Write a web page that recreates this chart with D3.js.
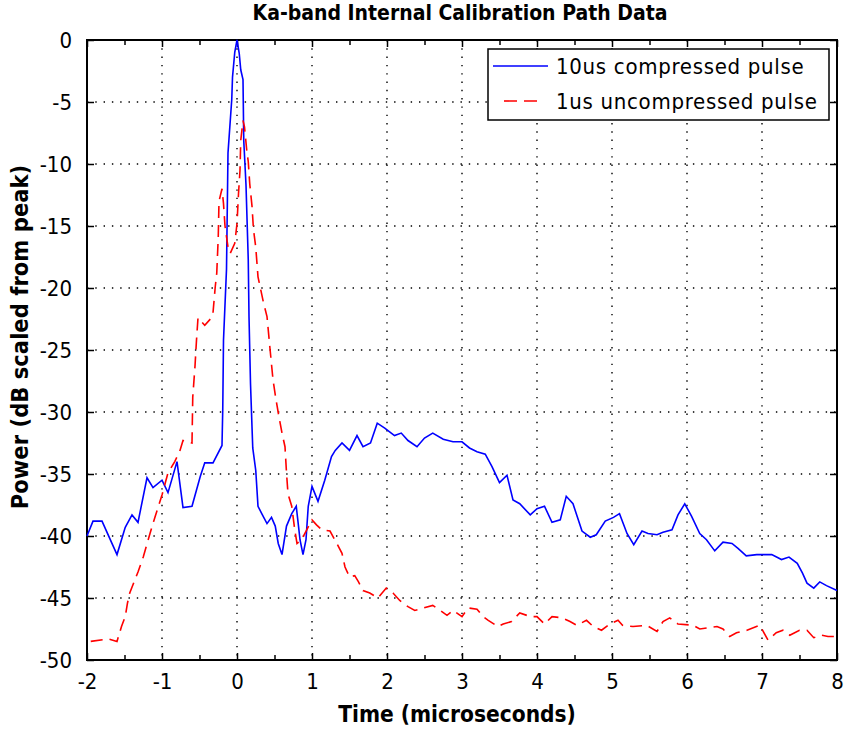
<!DOCTYPE html>
<html>
<head>
<meta charset="utf-8">
<script src="https://cdn.jsdelivr.net/npm/d3@7"></script>
<style>
  body { margin: 0; background: #fff; }
  text { font-family: "Liberation Sans Narrow", "DejaVu Sans Condensed", "Liberation Sans", Arial, sans-serif; }
</style>
</head>
<body>
<div id="chart"></div>
<script>
(function(){
  // 10us compressed pulse (blue, solid)
  const blueTime = [-2.0, -1.92, -1.80, -1.60, -1.49, -1.40, -1.32, -1.20, -1.12, -1.00, -0.92, -0.80, -0.72, -0.60, -0.49, -0.43, -0.32, -0.20, -0.19, -0.18, -0.14, -0.12, -0.07, -0.06, -0.03, 0.0, 0.03, 0.05, 0.08, 0.09, 0.12, 0.15, 0.16, 0.18, 0.20, 0.21, 0.25, 0.28, 0.33, 0.40, 0.46, 0.51, 0.55, 0.60, 0.66, 0.73, 0.79, 0.82, 0.84, 0.88, 0.92, 0.95, 1.00, 1.08, 1.17, 1.26, 1.31, 1.40, 1.50, 1.60, 1.68, 1.78, 1.87, 1.97, 2.10, 2.19, 2.28, 2.40, 2.50, 2.61, 2.75, 2.88, 3.00, 3.10, 3.20, 3.31, 3.40, 3.50, 3.60, 3.68, 3.77, 3.91, 4.00, 4.10, 4.20, 4.31, 4.39, 4.48, 4.60, 4.71, 4.79, 4.91, 5.02, 5.10, 5.20, 5.29, 5.40, 5.48, 5.60, 5.68, 5.80, 5.88, 5.97, 6.06, 6.17, 6.26, 6.37, 6.48, 6.60, 6.68, 6.79, 6.93, 7.13, 7.26, 7.36, 7.47, 7.54, 7.60, 7.69, 7.77, 7.86, 8.00];
  const bluePower = [-40.0, -38.8, -38.8, -41.5, -39.3, -38.3, -38.9, -35.3, -36.1, -35.5, -36.5, -34.0, -37.7, -37.6, -35.2, -34.1, -34.1, -32.7, -29.8, -24.2, -18.5, -9.1, -4.8, -3.0, -1.0, 0.0, -1.1, -2.4, -3.2, -8.1, -11.7, -17.7, -22.3, -27.7, -31.2, -32.9, -34.7, -37.6, -38.2, -39.0, -38.5, -39.2, -40.6, -41.5, -39.2, -38.2, -37.6, -39.2, -40.3, -41.5, -40.3, -37.6, -36.0, -37.2, -35.5, -33.6, -33.1, -32.5, -33.1, -31.9, -32.8, -32.5, -30.9, -31.3, -31.9, -31.7, -32.3, -32.8, -32.1, -31.7, -32.2, -32.4, -32.4, -32.9, -33.2, -33.4, -34.4, -35.7, -35.1, -37.1, -37.4, -38.3, -37.8, -37.6, -38.9, -38.7, -36.8, -37.4, -39.6, -40.1, -39.9, -38.8, -38.5, -38.2, -39.8, -40.7, -39.6, -39.8, -39.9, -39.7, -39.5, -38.3, -37.4, -38.4, -39.8, -40.3, -41.2, -40.5, -40.6, -41.0, -41.6, -41.5, -41.5, -41.9, -41.7, -42.2, -43.0, -43.8, -44.2, -43.7, -44.0, -44.4];

  // 1us uncompressed pulse (red, dashed)
  const redTime = [-1.95, -1.72, -1.60, -1.54, -1.49, -1.46, -1.43, -1.36, -1.32, -1.25, -1.16, -1.09, -1.00, -0.92, -0.83, -0.76, -0.72, -0.60, -0.59, -0.56, -0.54, -0.52, -0.43, -0.34, -0.32, -0.29, -0.27, -0.25, -0.24, -0.20, -0.18, -0.16, -0.12, -0.09, -0.03, 0.0, 0.02, 0.04, 0.05, 0.08, 0.10, 0.13, 0.15, 0.17, 0.20, 0.22, 0.25, 0.28, 0.35, 0.40, 0.44, 0.48, 0.52, 0.56, 0.60, 0.64, 0.66, 0.68, 0.73, 0.77, 0.80, 0.86, 0.93, 1.00, 1.06, 1.13, 1.24, 1.33, 1.40, 1.44, 1.50, 1.57, 1.62, 1.68, 1.77, 1.88, 1.99, 2.08, 2.17, 2.28, 2.37, 2.49, 2.61, 2.71, 2.80, 2.88, 3.00, 3.08, 3.20, 3.28, 3.35, 3.48, 3.55, 3.66, 3.77, 3.91, 4.00, 4.10, 4.20, 4.33, 4.44, 4.53, 4.66, 4.75, 4.86, 4.97, 5.08, 5.14, 5.28, 5.46, 5.60, 5.68, 5.77, 5.88, 6.08, 6.17, 6.40, 6.48, 6.57, 6.66, 6.80, 6.97, 7.08, 7.19, 7.28, 7.37, 7.50, 7.60, 7.69, 7.79, 7.88, 8.00];
  const redPower = [-48.5, -48.3, -48.5, -47.3, -46.5, -45.4, -44.6, -43.5, -42.9, -41.7, -39.8, -38.4, -36.7, -34.9, -34.0, -33.1, -32.3, -32.5, -28.8, -26.3, -24.2, -22.4, -23.0, -22.4, -22.0, -19.9, -18.8, -15.9, -13.0, -12.0, -13.2, -15.0, -16.7, -17.2, -16.4, -14.8, -12.4, -10.5, -8.1, -6.5, -7.0, -8.9, -9.8, -11.6, -13.4, -15.3, -16.7, -19.1, -21.1, -22.3, -24.9, -27.4, -29.0, -30.4, -31.7, -32.8, -34.9, -36.6, -37.6, -39.5, -40.6, -40.3, -39.5, -38.7, -39.1, -39.5, -39.6, -40.6, -41.4, -42.5, -43.3, -43.2, -43.7, -44.4, -44.6, -45.0, -44.2, -44.6, -45.2, -45.7, -46.0, -45.8, -45.6, -46.0, -46.4, -46.0, -46.5, -45.8, -45.9, -46.5, -46.8, -47.3, -47.1, -46.9, -46.2, -46.5, -46.5, -47.1, -46.5, -46.6, -46.9, -47.2, -46.8, -47.3, -47.6, -47.1, -46.8, -47.2, -47.3, -47.2, -47.7, -46.9, -46.6, -47.1, -47.2, -47.5, -47.3, -47.5, -48.1, -47.8, -47.6, -47.2, -48.4, -47.8, -47.6, -48.0, -47.6, -47.6, -48.2, -48.0, -48.1, -48.1];

  const xTicks = [-2, -1, 0, 1, 2, 3, 4, 5, 6, 7, 8];
  const xMinorTicks = [-1.5, -0.5, 0.5, 1.5, 2.5, 3.5, 4.5, 5.5, 6.5, 7.5];
  const yTicks = [0, -5, -10, -15, -20, -25, -30, -35, -40, -45, -50];
  const seriesNames = ["10us compressed pulse", "1us uncompressed pulse"];

  const margin = { top: 40, right: 8, bottom: 69, left: 87 };
  const width = 845 - margin.left - margin.right;
  const height = 729 - margin.top - margin.bottom;

  const svg = d3.select("#chart")
    .append("svg")
    .attr("width", 845)
    .attr("height", 729);

  const g = svg.append("g")
    .attr("transform", `translate(${margin.left},${margin.top})`);

  const x = d3.scaleLinear().domain([-2, 8]).range([0, width]);
  const y = d3.scaleLinear().domain([-50, 0]).range([height, 0]);

  // dotted grid
  const grid = g.append("g").attr("stroke", "#000").attr("stroke-width", 1.4)
    .attr("stroke-dasharray", "1.4,6.9");
  grid.selectAll(".vg").data(xTicks.slice(1, -1)).enter().append("line")
    .attr("x1", d => x(d)).attr("x2", d => x(d))
    .attr("y1", 0).attr("y2", height);
  grid.selectAll(".hg").data(yTicks.slice(1, -1)).enter().append("line")
    .attr("y1", d => y(d)).attr("y2", d => y(d))
    .attr("x1", 0).attr("x2", width);

  // axes (ticks point inward, like matlab); plain hyphen minus in labels
  const fontSize = "22px";
  const fmt = d => String(d);
  const xAxis = g.append("g").attr("transform", `translate(0,${height})`)
    .call(d3.axisBottom(x).tickValues(xTicks).tickSize(-7).tickPadding(13).tickFormat(fmt));
  const xAxisTop = g.append("g")
    .call(d3.axisTop(x).tickValues(xTicks).tickSize(-7).tickFormat(""));
  const yAxis = g.append("g")
    .call(d3.axisLeft(y).tickValues(yTicks).tickSize(-7).tickPadding(15).tickFormat(fmt));
  const yAxisRight = g.append("g").attr("transform", `translate(${width},0)`)
    .call(d3.axisRight(y).tickValues(yTicks).tickSize(-7).tickFormat(""));
  const minorB = g.append("g").attr("transform", `translate(0,${height})`)
    .call(d3.axisBottom(x).tickValues(xMinorTicks).tickSize(-5).tickFormat(""));
  const minorT = g.append("g")
    .call(d3.axisTop(x).tickValues(xMinorTicks).tickSize(-5).tickFormat(""));

  [xAxis, xAxisTop, yAxis, yAxisRight, minorB, minorT].forEach(a => {
    a.select(".domain").remove();
    a.selectAll("line").attr("stroke", "#000").attr("stroke-width", 1.5);
    a.selectAll("text").attr("font-size", fontSize).attr("fill", "#000")
      .attr("font-family", null);
  });
  xAxis.selectAll("text").attr("dy", "0.71em");

  // frame
  g.append("rect").attr("x", 0).attr("y", 0).attr("width", width).attr("height", height)
    .attr("fill", "none").attr("stroke", "#000").attr("stroke-width", 2);

  const line = d3.line().x(d => x(d[0])).y(d => y(d[1]));

  g.append("path")
    .datum(blueTime.map((t, i) => [t, bluePower[i]]))
    .attr("fill", "none").attr("stroke", "#0000ff").attr("stroke-width", 1.6)
    .attr("d", line);

  g.append("path")
    .datum(redTime.map((t, i) => [t, redPower[i]]))
    .attr("fill", "none").attr("stroke", "#ff0000").attr("stroke-width", 1.6)
    .attr("stroke-dasharray", "12,7")
    .attr("d", line);

  // legend
  const legend = svg.append("g").attr("transform", "translate(488,49)");
  legend.append("rect").attr("width", 341).attr("height", 71)
    .attr("fill", "#fff").attr("stroke", "#000").attr("stroke-width", 1.5);
  legend.append("line").attr("x1", 5).attr("x2", 60).attr("y1", 17).attr("y2", 17)
    .attr("stroke", "#0000ff").attr("stroke-width", 1.6);
  legend.append("line").attr("x1", 16).attr("x2", 56).attr("y1", 52).attr("y2", 52)
    .attr("stroke", "#ff0000").attr("stroke-width", 1.6).attr("stroke-dasharray", "13,7");
  legend.selectAll(".lt").data(seriesNames).enter().append("text")
    .attr("x", 68).attr("y", (d, i) => 17 + i * 35).attr("dy", "0.35em")
    .attr("font-size", "22px").attr("letter-spacing", "0.7px").attr("fill", "#000")
    .text(d => d);

  // titles
  svg.append("text").attr("x", 460).attr("y", 20)
    .attr("text-anchor", "middle").attr("font-size", "21px").attr("font-weight", "bold")
    .text("Ka-band Internal Calibration Path Data");

  svg.append("text").attr("x", 457).attr("y", 722)
    .attr("text-anchor", "middle").attr("font-size", "22.5px").attr("font-weight", "bold")
    .text("Time (microseconds)");

  svg.append("text")
    .attr("transform", `translate(28,337) rotate(-90)`)
    .attr("text-anchor", "middle").attr("font-size", "23.5px").attr("font-weight", "bold")
    .text("Power (dB scaled from peak)");
})();
</script>
</body>
</html>
